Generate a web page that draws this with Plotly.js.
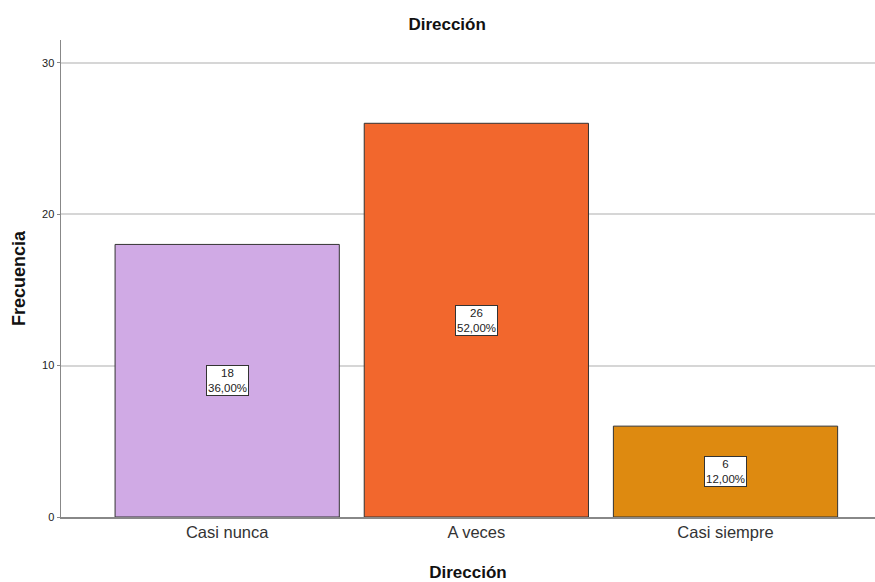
<!DOCTYPE html>
<html>
<head>
<meta charset="utf-8">
<script src="https://cdn.plot.ly/plotly-3.0.1.min.js"></script>
<style>html,body{margin:0;padding:0;background:#fff;}#chart{width:875px;height:582px;}</style>
</head>
<body>
<div id="chart"></div>
<script>
const categories = ["Casi nunca", "A veces", "Casi siempre"];
const frequencies = [18, 26, 6];
const percentLabels = ["36,00%", "52,00%", "12,00%"];
const barColors = ["#D0AAE5", "#F2672D", "#DE8A10"];
const yTicks = [0, 10, 20, 30];

const trace = {
  type: "bar",
  x: categories,
  y: frequencies,
  marker: { color: barColors, line: { color: "#333333", width: 1 } },
  hoverinfo: "none"
};

const annotations = categories.map((c, i) => ({
  x: c, y: frequencies[i] / 2, xref: "x", yref: "y",
  text: frequencies[i] + "<br>" + percentLabels[i],
  showarrow: false,
  font: { family: "Liberation Sans, Arial, sans-serif", size: 11.5, color: "#222" },
  bgcolor: "#ffffff", bordercolor: "#333333", borderwidth: 1, borderpad: 1
}));

const layout = {
  width: 875, height: 582,
  margin: { l: 61, r: 0, t: 40, b: 65 },
  paper_bgcolor: "#ffffff", plot_bgcolor: "#ffffff",
  font: { family: "Liberation Sans, Arial, sans-serif", color: "#222" },
  title: { text: "<b>Dirección</b>", font: { size: 17, color: "#111" }, x: 0.511, xanchor: "center", y: 0.958, yanchor: "middle" },
  bargap: 0.1,
  showlegend: false,
  xaxis: {
    range: [-0.667, 2.6],
    showline: true, linecolor: "#888888", linewidth: 1.5,
    ticks: "", showgrid: false, zeroline: false,
    tickfont: { size: 16.5, color: "#333" },
    title: { text: "<b>Dirección</b>", font: { size: 17, color: "#111" }, standoff: 29 },
    fixedrange: true
  },
  yaxis: {
    range: [0, 31.5],
    tickvals: yTicks, ticktext: yTicks.map(String),
    showline: true, linecolor: "#888888", linewidth: 1.5,
    ticks: "outside", ticklen: 3, tickcolor: "#888888",
    showgrid: true, gridcolor: "#d6d6d6", gridwidth: 2, zeroline: false,
    tickfont: { size: 11, color: "#222" },
    title: { text: "<b>Frecuencia</b>", font: { size: 18, color: "#111" }, standoff: 11 },
    fixedrange: true
  },
  annotations: annotations
};

Plotly.newPlot("chart", [trace], layout, { displayModeBar: false, staticPlot: true });
</script>
</body>
</html>
